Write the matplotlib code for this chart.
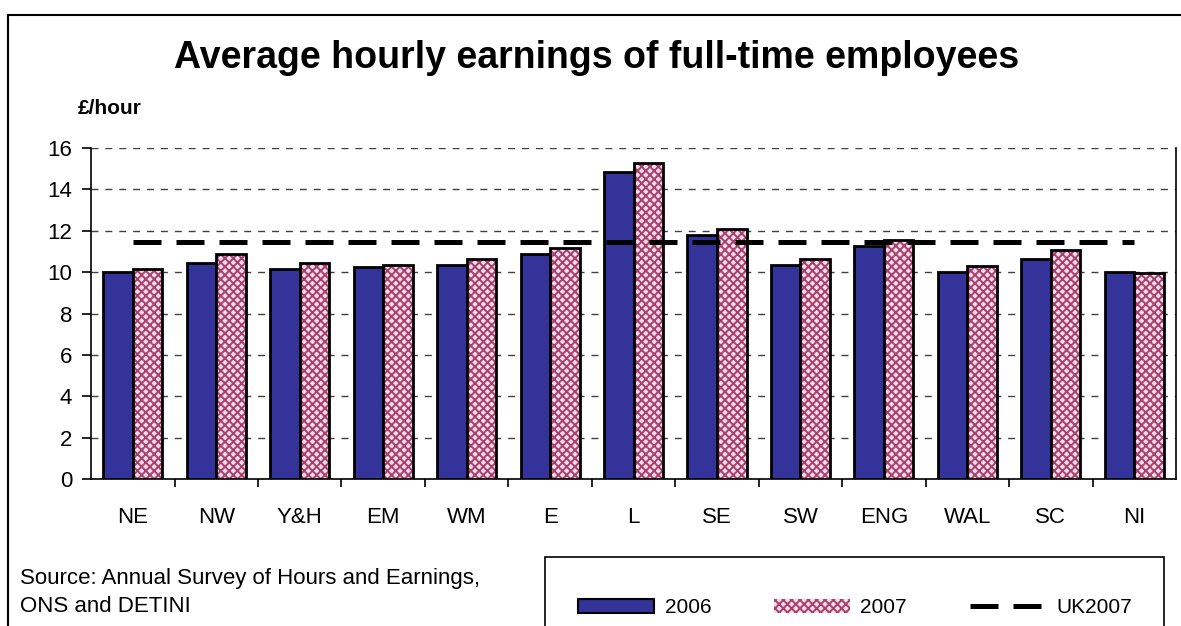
import matplotlib
matplotlib.use("Agg")
import matplotlib.pyplot as plt
from matplotlib.patches import Rectangle, Patch
from matplotlib.lines import Line2D
import numpy as np

plt.rcParams['font.family'] = ['Liberation Sans', 'DejaVu Sans']
plt.rcParams['hatch.linewidth'] = 1.4

# values
regions = ["NE", "NW", "Y&H", "EM", "WM", "E", "L", "SE", "SW", "ENG", "WAL", "SC", "NI"]
earn_2006 = [10.0, 10.45, 10.17, 10.27, 10.35, 10.88, 14.83, 11.81, 10.36, 11.26, 10.0, 10.63, 10.0]
earn_2007 = [10.16, 10.88, 10.45, 10.35, 10.64, 11.16, 15.26, 12.09, 10.63, 11.55, 10.28, 11.09, 9.98]
uk_2007 = 11.44

blue = "#333399"
pink = "#a8406f"
pink_bg = "#f2dce8"

fig = plt.figure(figsize=(11.81, 6.26), dpi=100)
ax = fig.add_axes([0.0771, 0.2348, 0.9187, 0.5288])

x = np.arange(len(regions))
w = 0.354
ax.bar(x - w / 2, earn_2006, w, color=blue, edgecolor="black", linewidth=2, zorder=3)
# hatch colour follows edgecolor: pattern first, outline on top
ax.bar(x + w / 2, earn_2007, w, color=pink_bg, edgecolor=pink, linewidth=0,
       hatch="xxxx", zorder=3)
ax.bar(x + w / 2, earn_2007, w, fill=False, edgecolor="black", linewidth=2, zorder=4)

ax.hlines(uk_2007, 0, len(regions) - 1, colors="black", linewidth=3.6,
          linestyles=(0, (5.6, 3)), zorder=5)

ax.set_xlim(-0.5, len(regions) - 0.5)
ax.set_ylim(0, 16)
ax.set_yticks(range(0, 17, 2))
ax.set_xticks(x)
ax.set_xticklabels(regions)
ax.set_xticks(np.arange(0.5, len(regions) - 1, 1), minor=True)
ax.tick_params(axis="x", which="major", length=0, pad=20, labelsize=16)
ax.tick_params(axis="x", which="minor", length=6, width=1.2, direction="out")
ax.tick_params(axis="y", length=6.5, width=1.2, direction="out", pad=7, labelsize=16)

ax.yaxis.grid(True, color="#404040", linewidth=1, linestyle=(0, (5, 5)), zorder=0)
ax.spines["top"].set_visible(False)
for s in ["left", "bottom", "right"]:
    ax.spines[s].set_linewidth(1.2)

fig.text(0.5055, 0.908, "Average hourly earnings of full-time employees",
         ha="center", va="center", fontsize=27, fontweight="bold")
fig.text(0.066, 0.827, "£/hour", ha="left", va="center", fontsize=15, fontweight="bold")
fig.text(0.017, 0.054, "Source: Annual Survey of Hours and Earnings,\nONS and DETINI",
         ha="left", va="center", fontsize=16, linespacing=1.45)

# outer chart frame (runs off the right and bottom edges)
fig.add_artist(Rectangle((0.0068, -0.1), 1.2, 1.076, transform=fig.transFigure,
                         fill=False, edgecolor="black", linewidth=1.5))
# legend box
fig.add_artist(Rectangle((0.4615, -0.1), 0.524, 0.2102, transform=fig.transFigure,
                         fill=False, edgecolor="black", linewidth=1.2))

handles = [
    Patch(facecolor=blue, edgecolor="black", linewidth=1.5, label="2006"),
    Patch(facecolor=pink_bg, edgecolor=pink, hatch="xxxx", linewidth=0, label="2007"),
    Line2D([0], [0], color="black", linewidth=3.6, linestyle=(0, (5.6, 3)), label="UK2007"),
]
fig.legend(handles=handles, ncol=3, loc="center", bbox_to_anchor=(0.724, 0.029),
           frameon=False, fontsize=15, handlelength=3.65, handleheight=0.7,
           handletextpad=0.5, columnspacing=3.0)

fig.savefig("out.png", dpi=100)
